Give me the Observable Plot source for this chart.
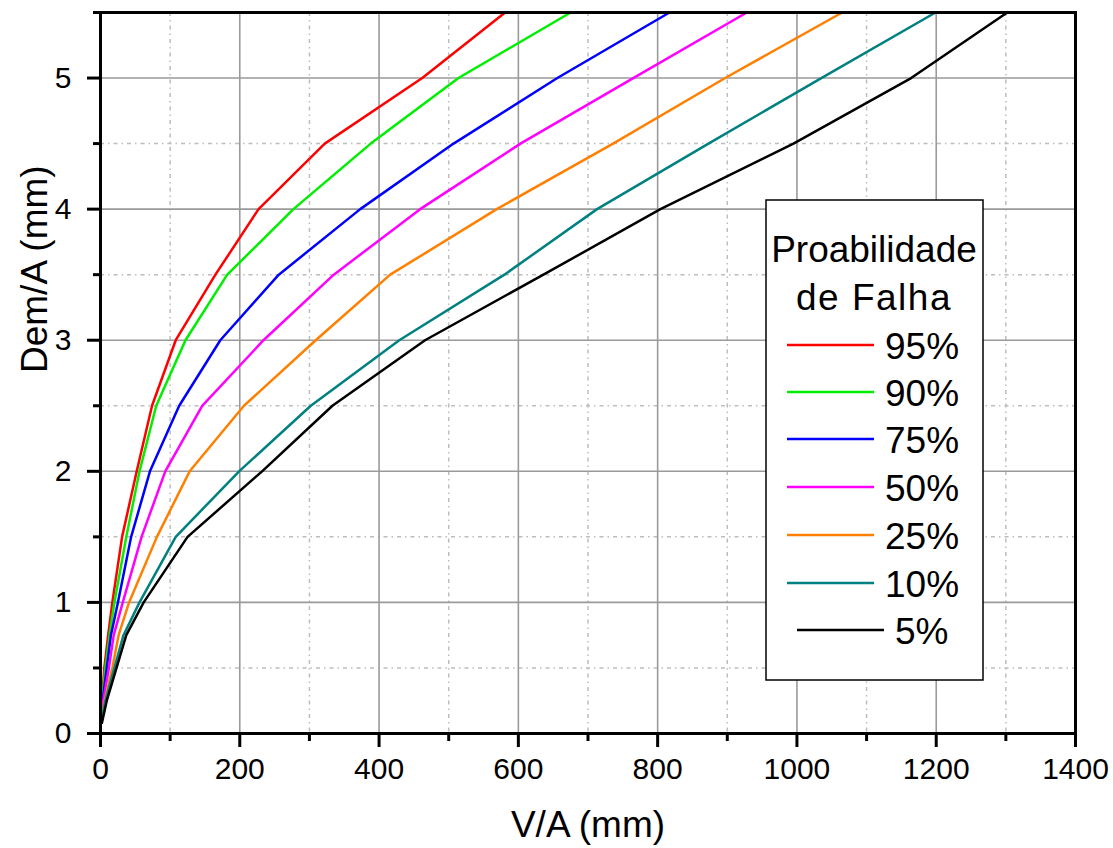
<!DOCTYPE html>
<html><head><meta charset="utf-8">
<script src="https://cdn.jsdelivr.net/npm/d3@7"></script>
<script src="https://cdn.jsdelivr.net/npm/@observablehq/plot@0.6"></script>
<style>
body{margin:0;background:#fff;}
#chart{position:relative;width:1113px;height:848px;}
</style>
</head><body><div id="chart"></div>
<script>
// Dem/A levels (mm) at which the curves were read
const demLevels = [0.08, 0.25, 0.5, 0.75, 1, 1.5, 2, 2.5, 3, 3.5, 4, 4.5, 5, 5.5];
// V/A (mm) of each failure-probability curve
const v95 = [0, 2, 5.5, 11, 17, 31, 52, 74, 108, 165, 227, 322, 462, 581];
const v90 = [0, 2.5, 7, 13, 20, 37, 56, 80, 122, 182, 277, 388, 514, 675];
const v75 = [1, 3, 9, 15, 25, 44, 71, 113, 172, 256, 373, 507, 656, 817];
const v50 = [1, 4, 12, 19, 32, 59, 93, 146, 234, 335, 459, 603, 765, 928];
const v25 = [1, 6, 17, 26, 41, 81, 128, 206, 309, 416, 569, 736, 897, 1065];
const v10 = [1, 7, 20, 33, 56, 108, 199, 302, 429, 580, 713, 873, 1035, 1199];
const v05 = [2, 9, 23, 37, 62, 125, 232, 333, 466, 636, 804, 995, 1164, 1302];

const seriesNames = ["95%", "90%", "75%", "50%", "25%", "10%", "5%"];
const seriesColors = ["#ff0000", "#00ee00", "#0000ff", "#ff00ff", "#ff8000", "#008080", "#000000"];
const seriesValues = [v95, v90, v75, v50, v25, v10, v05];

const xMajor = [0, 200, 400, 600, 800, 1000, 1200, 1400];
const xMinor = [100, 300, 500, 700, 900, 1100, 1300];
const yMajor = [0, 1, 2, 3, 4, 5];
const yMinor = [0.5, 1.5, 2.5, 3.5, 4.5, 5.5];

const xTitle = "V/A (mm)";
const yTitle = "Dem/A (mm)";
const legendTitle = ["Proabilidade", "de Falha"];

const rows = [];
seriesNames.forEach((name, i) => {
  demLevels.forEach((d, j) => rows.push({series: name, v: seriesValues[i][j], d}));
});

const FONT = "'Liberation Sans', Arial, Helvetica, sans-serif";

const plot = Plot.plot({
  width: 1113,
  height: 848,
  marginLeft: 100,
  marginRight: 38,
  marginTop: 12,
  marginBottom: 115,
  style: {fontFamily: FONT, background: "#fff", color: "#000"},
  x: {domain: [0, 1400]},
  y: {domain: [0, 5.5]},
  color: {domain: seriesNames, range: seriesColors},
  marks: [
    Plot.gridX(xMinor, {stroke: "#bdbdbd", strokeOpacity: 1, strokeWidth: 1.5, strokeDasharray: "4,4,1.5,4"}),
    Plot.gridY(yMinor.filter(d => d < 5.5), {stroke: "#bdbdbd", strokeOpacity: 1, strokeWidth: 1.5, strokeDasharray: "4,4,1.5,4"}),
    Plot.gridX(xMajor.filter(d => d > 0 && d < 1400), {stroke: "#9a9a9a", strokeOpacity: 1, strokeWidth: 1.6}),
    Plot.gridY(yMajor.filter(d => d > 0), {stroke: "#9a9a9a", strokeOpacity: 1, strokeWidth: 1.6}),
    Plot.line(rows, {x: "v", y: "d", z: "series", stroke: "series", strokeWidth: 2.5, strokeLinejoin: "round"}),
    Plot.frame({stroke: "#000", strokeWidth: 3}),
    Plot.axisX(xMajor, {tickSize: 14, tickPadding: 10, strokeWidth: 3, fontSize: 30, tickFormat: d => String(d), label: null}),
    Plot.axisX(xMinor, {tickSize: 8, strokeWidth: 3, tickFormat: () => "", label: null}),
    Plot.axisY(yMajor, {tickSize: 13, tickPadding: 16, strokeWidth: 3, fontSize: 30, tickFormat: d => String(d), label: null}),
    Plot.axisY(yMinor, {tickSize: 7, strokeWidth: 3, tickFormat: () => "", label: null}),
    Plot.text([xTitle], {frameAnchor: "bottom", dy: 92, text: d => d, fontSize: 37, fill: "#000", lineAnchor: "middle"}),
    Plot.text([yTitle], {frameAnchor: "left", dx: -65, rotate: -90, text: d => d, fontSize: 37, fill: "#000", lineAnchor: "middle"})
  ]
});

document.getElementById("chart").appendChild(plot);

// Legend box
const svg = d3.select(plot);
const lg = svg.append("g").attr("font-family", FONT);
lg.append("rect").attr("x", 766).attr("y", 200).attr("width", 217).attr("height", 480)
  .attr("fill", "#fff").attr("stroke", "#000").attr("stroke-width", 1.5);
lg.append("text").attr("x", 874).attr("y", 249).attr("text-anchor", "middle").attr("dominant-baseline", "central")
  .attr("font-size", 37).attr("fill", "#000").text(legendTitle[0]);
lg.append("text").attr("x", 874).attr("y", 297).attr("text-anchor", "middle").attr("dominant-baseline", "central")
  .attr("font-size", 37).attr("fill", "#000").attr("letter-spacing", 1.5).text(legendTitle[1]);
const legendY = [345, 392, 439, 487, 535, 583, 630];
seriesNames.forEach((name, i) => {
  const off = i === 6 ? 10 : 0;
  lg.append("line").attr("x1", 787 + off).attr("x2", 874 + off).attr("y1", legendY[i]).attr("y2", legendY[i])
    .attr("stroke", seriesColors[i]).attr("stroke-width", 2.5);
  lg.append("text").attr("x", 885 + off).attr("y", legendY[i] + 1).attr("text-anchor", "start")
    .attr("dominant-baseline", "central")
    .attr("font-size", 37).attr("fill", "#000").text(name);
});
</script>
</body></html>
